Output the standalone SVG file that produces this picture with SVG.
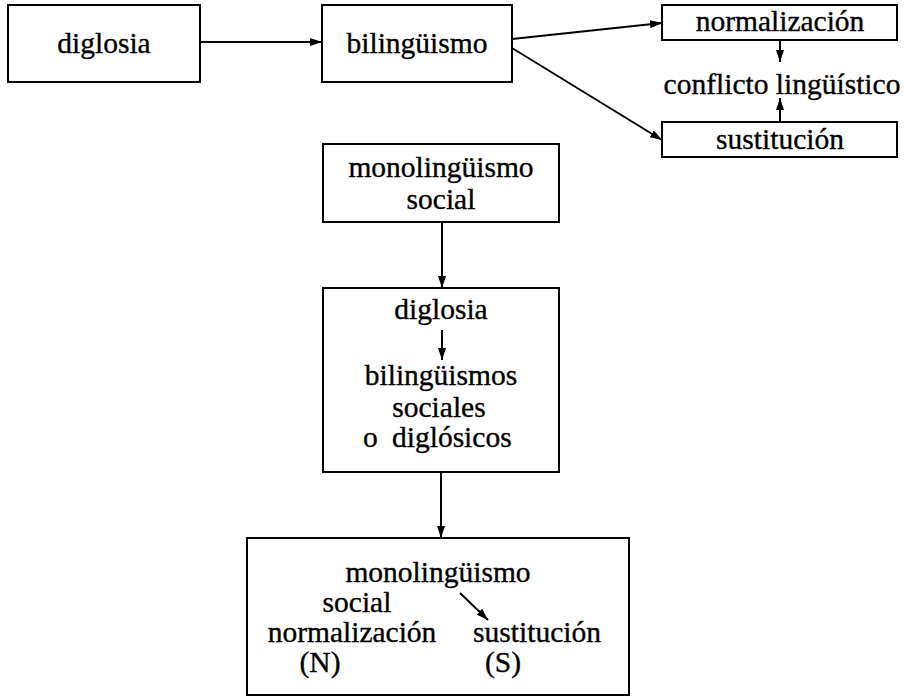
<svg xmlns="http://www.w3.org/2000/svg" width="904" height="697" viewBox="0 0 904 697">
<defs>
<marker id="ah" viewBox="0 0 12 8" refX="12" refY="4" markerWidth="12" markerHeight="8" markerUnits="userSpaceOnUse" orient="auto">
<path d="M0,0 L12,4 L0,8 Z" fill="#000"/>
</marker>
</defs>
<style>
.box{fill:#fff;stroke:#000;stroke-width:2}
.t{font-family:"Liberation Serif","Times New Roman",serif;font-size:29.5px;fill:#000;stroke:#000;stroke-width:0.35;text-anchor:middle}
.s{text-anchor:start}
.c{stroke:#000;stroke-width:2;fill:none;marker-end:url(#ah)}
</style>
<rect width="904" height="697" fill="#fff"/>
<g id="n-diglosia">
<rect class="box" x="8" y="5" width="192" height="77"/>
<text class="t" x="104" y="53">diglosia</text>
</g>
<g id="n-bilinguismo">
<rect class="box" x="322" y="5" width="190" height="77"/>
<text class="t" x="417" y="53">bilingüismo</text>
</g>
<g id="n-normalizacion">
<rect class="box" x="662" y="5" width="235" height="35"/>
<text class="t" x="780" y="31">normalización</text>
</g>
<g id="n-conflicto">
<text class="t" x="782" y="94">conflicto lingüístico</text>
</g>
<g id="n-sustitucion">
<rect class="box" x="662" y="122" width="235" height="35"/>
<text class="t" x="780" y="149">sustitución</text>
</g>
<g id="n-monolinguismo">
<rect class="box" x="323" y="144" width="236" height="78"/>
<text class="t" x="441" y="177">monolingüismo</text>
<text class="t" x="441" y="209">social</text>
</g>
<g id="n-diglosia2">
<rect class="box" x="323" y="288" width="236" height="184"/>
<text class="t" x="441" y="319">diglosia</text>
<text class="t" x="441" y="385">bilingüismos</text>
<text class="t" x="439" y="417">sociales</text>
<text class="t s" y="447"><tspan x="363">o</tspan><tspan x="392">diglósicos</tspan></text>
</g>
<g id="n-final">
<rect class="box" x="247" y="538" width="382" height="157"/>
<text class="t" x="438" y="582">monolingüismo</text>
<text class="t" x="357" y="612">social</text>
<text class="t" x="352" y="642">normalización</text>
<text class="t" x="537" y="642">sustitución</text>
<text class="t" x="320" y="672">(N)</text>
<text class="t" x="503" y="672">(S)</text>
</g>
<g id="connectors">
<line class="c" x1="200" y1="42" x2="322" y2="42"/>
<line class="c" x1="512" y1="39" x2="662" y2="23"/>
<line class="c" x1="512" y1="48" x2="662" y2="140"/>
<line class="c" x1="780" y1="40" x2="780" y2="62"/>
<line class="c" x1="780" y1="122" x2="780" y2="98"/>
<line class="c" x1="442" y1="222" x2="442" y2="288"/>
<line class="c" x1="442" y1="330" x2="442" y2="360"/>
<line class="c" x1="441" y1="472" x2="441" y2="538"/>
<line class="c" x1="460" y1="593" x2="488" y2="620"/>
</g>
</svg>
